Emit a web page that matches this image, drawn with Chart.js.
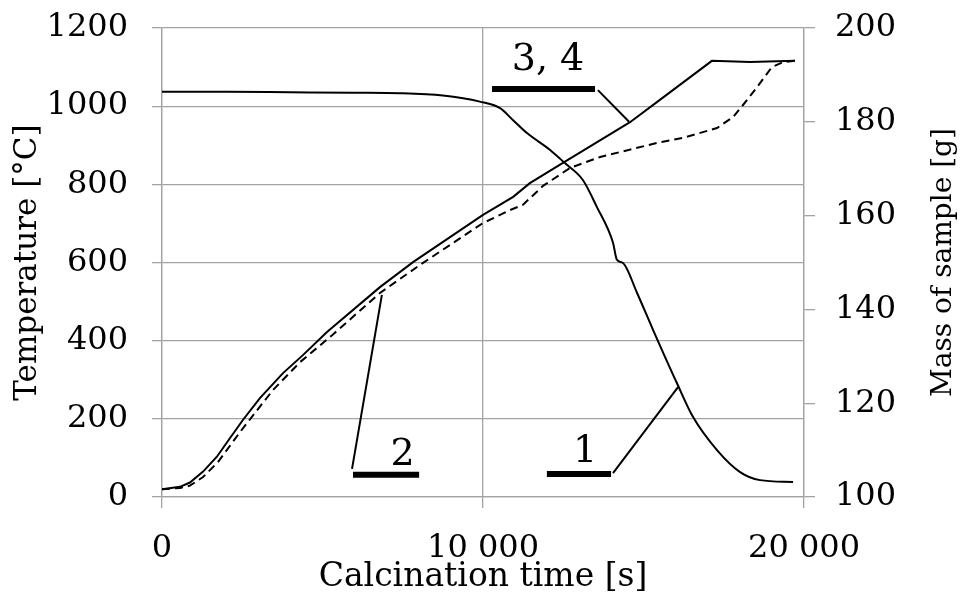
<!DOCTYPE html>
<html>
<head>
<meta charset="utf-8">
<script src="https://cdn.jsdelivr.net/npm/chart.js@4.4.1/dist/chart.umd.min.js"></script>
<style>
html, body { margin: 0; padding: 0; background: #fff; }
#wrap { width: 964px; height: 593px; }
</style>
</head>
<body>
<div id="wrap"><canvas id="chart" width="964" height="593"></canvas></div>
<script>
// 焼成時間 [s] と温度 [°C] - 曲線 3, 4 (実線)
const solidTime = [0, 560, 870, 1280, 1710, 2120, 2520, 3050, 3770, 4390, 5140, 6790, 7820, 10000, 10940, 11460, 12490, 14580, 15510, 17130, 18320, 19720];
const solidTemp = [20, 26, 37, 65, 103, 151, 197, 253, 317, 363, 422, 537, 601, 722, 768, 803, 855, 959, 1016, 1116, 1113, 1116];

// 曲線 2 (破線)
const dashedTime = [0, 560, 870, 1280, 1750, 2430, 2800, 3460, 4300, 5300, 6790, 8040, 10000, 10840, 11250, 11870, 12710, 13650, 15420, 16230, 17290, 17790, 18100, 18540, 19000, 19350, 19720];
const dashedTemp = [20, 23, 29, 51, 90, 166, 205, 274, 345, 414, 522, 594, 701, 734, 748, 796, 842, 870, 906, 919, 944, 972, 1003, 1049, 1100, 1113, 1116];

// 曲線 1: 試料質量 [g]
const massTime = [0, 2000, 4000, 6000, 7410, 8750, 9900, 10530, 10930, 11370, 12090, 12550, 13110, 13550, 14050, 14170, 14360, 14800, 15300, 16040, 16540, 17290, 18010, 18630, 19660];
const massValue = [186.4, 186.4, 186.3, 186.2, 186.1, 185.6, 184.3, 182.9, 180.4, 177.6, 174.0, 171.2, 167.6, 161.8, 154.2, 150.6, 149.9, 143.5, 135.6, 124.3, 117.1, 110.0, 105.3, 103.6, 103.2];

// 目盛り
const xTicks = [0, 10000, 20000];
const tempTicks = [0, 200, 400, 600, 800, 1000, 1200];
const massTicks = [100, 120, 140, 160, 180, 200];

// 引き出し線のラベル (時間, 温度)
const calloutText = ['3, 4', '2', '1'];
const calloutTextAt = [[12025, 1092], [7492, 82], [13178, 90]];
const calloutBars = [[[10280, 1044], [13490, 1044]], [[5950, 57], [8010, 57]], [[11990, 59], [13990, 59]]];
const calloutLeaders = [[[13580, 1041], [14550, 960]], [[5920, 72], [6850, 517]], [[14050, 61], [16075, 281]]];

const FONT = '"DejaVu Serif", serif';
const GRID = '#a3a3a3';

function toPoints(xs, ys) {
    return xs.map((x, i) => ({ x: x, y: ys[i] }));
}

function fmtThousands(v) {
    return String(v).replace(/\B(?=(\d{3})+(?!\d))/g, ' ');
}

// 縦軸の幅を固定し、ラベル分の上下余白を消す
function fixVertical(width) {
    return s => {
        s.width = width;
        s.paddingTop = 0;
        s.paddingBottom = 0;
    };
}

const datasets = [
    {
        data: toPoints(solidTime, solidTemp),
        yAxisID: 'y',
        borderColor: '#000',
        borderWidth: 2,
        pointRadius: 0,
        tension: 0
    },
    {
        data: toPoints(dashedTime, dashedTemp),
        yAxisID: 'y',
        borderColor: '#000',
        borderWidth: 2,
        borderDash: [8, 5],
        pointRadius: 0,
        tension: 0
    },
    {
        data: toPoints(massTime, massValue),
        yAxisID: 'y2',
        borderColor: '#000',
        borderWidth: 2,
        pointRadius: 0,
        cubicInterpolationMode: 'monotone'
    }
];

// 引き出し線と太い下線
calloutBars.forEach(pts => {
    datasets.push({
        data: pts.map(p => ({ x: p[0], y: p[1] })),
        yAxisID: 'y',
        borderColor: '#000',
        borderWidth: 6,
        borderCapStyle: 'butt',
        pointRadius: 0
    });
});
calloutLeaders.forEach(pts => {
    datasets.push({
        data: pts.map(p => ({ x: p[0], y: p[1] })),
        yAxisID: 'y',
        borderColor: '#000',
        borderWidth: 2,
        pointRadius: 0
    });
});

// ラベル文字と右軸タイトル
const textPlugin = {
    id: 'texts',
    afterDatasetsDraw(chart) {
        const ctx = chart.ctx;
        const sx = chart.scales.x;
        const sy = chart.scales.y;
        ctx.save();
        ctx.fillStyle = '#000';
        ctx.font = '38px ' + FONT;
        ctx.textAlign = 'center';
        ctx.textBaseline = 'alphabetic';
        calloutText.forEach((t, i) => {
            ctx.fillText(t, sx.getPixelForValue(calloutTextAt[i][0]), sy.getPixelForValue(calloutTextAt[i][1]));
        });
        const area = chart.chartArea;
        ctx.translate(944, (area.top + area.bottom) / 2);
        ctx.rotate(-Math.PI / 2);
        ctx.font = '28px ' + FONT;
        ctx.textBaseline = 'middle';
        ctx.fillText('Mass of sample [g]', 0, 0);
        ctx.restore();
    }
};

const chart = new Chart(document.getElementById('chart'), {
    type: 'line',
    data: { datasets: datasets },
    options: {
        responsive: false,
        animation: false,
        devicePixelRatio: 1,
        layout: { padding: { top: 28, left: 0, right: 0, bottom: 0 } },
        plugins: {
            legend: { display: false },
            tooltip: { enabled: false }
        },
        scales: {
            x: {
                type: 'linear',
                min: 0,
                max: 20000,
                afterBuildTicks: s => { s.ticks = xTicks.map(v => ({ value: v })); },
                afterFit: s => { s.height = 96; },
                ticks: {
                    color: '#000',
                    font: { family: FONT, size: 32 },
                    padding: 21,
                    maxRotation: 0,
                    callback: v => fmtThousands(v)
                },
                grid: { color: GRID, lineWidth: 1.3, tickLength: 11 },
                border: { color: GRID, width: 1.3 },
                title: {
                    display: true,
                    text: 'Calcination time [s]',
                    color: '#000',
                    font: { family: FONT, size: 33 },
                    padding: { top: 0, bottom: -4 }
                }
            },
            y: {
                position: 'left',
                min: 0,
                max: 1200,
                afterBuildTicks: s => { s.ticks = tempTicks.map(v => ({ value: v })); },
                afterFit: fixVertical(162),
                ticks: {
                    color: '#000',
                    font: { family: FONT, size: 32 },
                    padding: 24,
                    callback: v => String(v)
                },
                grid: { color: GRID, lineWidth: 1.3, tickLength: 10 },
                border: { color: GRID, width: 1.3 },
                title: {
                    display: true,
                    text: 'Temperature [°C]',
                    color: '#000',
                    font: { family: FONT, size: 31 },
                    padding: { top: 9, bottom: 0 }
                }
            },
            y2: {
                position: 'right',
                min: 100,
                max: 200,
                afterBuildTicks: s => { s.ticks = massTicks.map(v => ({ value: v })); },
                afterFit: fixVertical(160),
                ticks: {
                    color: '#000',
                    font: { family: FONT, size: 32 },
                    padding: 20,
                    callback: v => String(v)
                },
                grid: { color: GRID, lineWidth: 1.3, tickLength: 11, drawOnChartArea: false },
                border: { color: GRID, width: 1.3 }
            }
        }
    },
    plugins: [textPlugin]
});
</script>
</body>
</html>
